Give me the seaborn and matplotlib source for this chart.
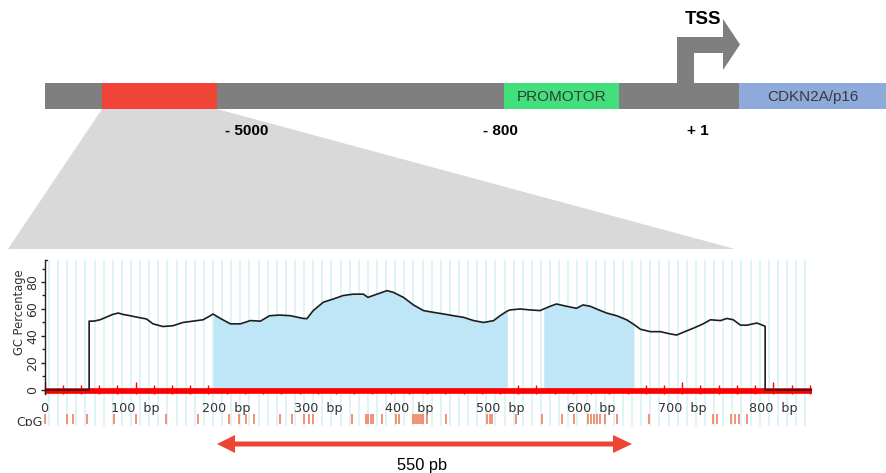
import numpy as np
import pandas as pd
import matplotlib
matplotlib.use("Agg")
import matplotlib.pyplot as plt
from matplotlib.patches import Polygon, Rectangle
from matplotlib.ticker import FixedLocator
import seaborn as sns

# ---------------- GC content profile (position in bp, GC %) ----------------
gc_pos = [0, 49, 49, 54, 61, 68, 75, 81, 86, 94,
          101, 112, 119, 130, 141, 152, 163, 174, 182, 185,
          193, 204, 215, 226, 237, 247, 258, 270, 277, 284,
          288, 295, 306, 317, 328, 339, 350, 355, 365, 376,
          383, 394, 405, 416, 427, 438, 449, 460, 471, 482,
          493, 500, 508, 511, 522, 533, 544, 548, 555, 562,
          573, 584, 591, 599, 606, 617, 628, 639, 647, 654,
          665, 676, 687, 694, 701, 712, 723, 731, 742, 749,
          756, 764, 771, 782, 791, 791, 842]
gc_pct = [0, 0, 51, 51, 52, 54, 56, 57, 56, 55,
          54, 52.6, 49, 47, 47.6, 50, 51, 52, 55, 56.3,
          53, 49, 49, 51.4, 51, 55, 55.5, 55, 54, 53,
          52.8, 58.8, 65, 67.4, 70, 71, 71, 68.6, 71, 73.6,
          72.3, 68.6, 63, 58.8, 57.5, 56.3, 55, 53.8, 51.4, 50,
          51.4, 55, 58.5, 59.3, 60, 59.3, 58.8, 60, 62, 63.7,
          62, 60.5, 63, 62, 60, 57, 55, 52, 48.5, 45,
          43.2, 43.2, 41.5, 40.7, 42.7, 45.7, 49, 52, 51.4, 53,
          52, 48, 48, 49.6, 47.2, 0, 0]

# CpG islands (bp)
island_start = [185, 548]
island_end = [508, 647]

# CpG dinucleotide positions (bp)
cpg_sites = [1, 25, 31, 47, 76, 100, 133, 168, 203, 213, 221, 230, 258, 272,
             285, 290, 295, 337, 353, 355, 358, 361, 370, 386, 389, 404, 407,
             409, 411, 413, 415, 420, 441, 486, 489, 491, 518, 546, 568, 581,
             597, 600, 603, 606, 610, 615, 628, 663, 734, 738, 754, 758, 762, 771]

x_ticks = [0, 100, 200, 300, 400, 500, 600, 700, 800]
x_tick_labels = ["0", "100  bp", "200  bp", "300  bp", "400  bp",
                 "500  bp", "600  bp", "700  bp", "800  bp"]
y_ticks = [0, 20, 40, 60, 80]
y_tick_labels = ["0", "20", "40", "60", "80"]

# ---------------- gene map (drawing units) ----------------
map_bar = (45, 740)
seg_start = [102, 504, 739]
seg_end = [217, 619, 886]
seg_colors = ["#f04438", "#41e07d", "#8eaadb"]
seg_text = ["", "PROMOTOR", "CDKN2A/p16"]
coord_labels = ["- 5000", "- 800", "+ 1"]
coord_x = [246.5, 500.5, 697.5]
span_label = "550 pb"

sns.set_style("white")
plt.rcParams["font.family"] = ["DejaVu Sans"]

W, H = 886, 473
fig = plt.figure(figsize=(W / 100, H / 100), dpi=100)

# canvas for the gene map, in pixel units
cv = fig.add_axes([0, 0, 1, 1], zorder=0)
cv.set_xlim(0, W)
cv.set_ylim(H, 0)
cv.axis("off")

# zoom wedge from the highlighted region down to the profile
cv.add_patch(Polygon([(102, 109), (217, 109), (735, 249), (8, 249)],
                     closed=True, facecolor="#d9d9d9", edgecolor="none", zorder=1))

# backbone and segments
cv.barh(96, map_bar[1] - map_bar[0], left=map_bar[0], height=26,
        color="#7f7f7f", edgecolor="none", linewidth=0, zorder=2)
seg_w = [e - s for s, e in zip(seg_start, seg_end)]
cv.barh([96] * len(seg_start), seg_w, left=seg_start, height=26,
        color=seg_colors, edgecolor="none", linewidth=0, zorder=3)
for s, e, t in zip(seg_start, seg_end, seg_text):
    if t:
        cv.text((s + e) / 2, 96.5, t, ha="center", va="center", fontsize=11,
                color="#3a3a3a", family=["Liberation Sans"], zorder=4)

# transcription start arrow
cv.add_patch(Polygon([(677, 83), (677, 37), (723, 37), (723, 19), (740, 44.5),
                      (723, 70), (723, 53), (694, 53), (694, 83)],
                     closed=True, facecolor="#7f7f7f", edgecolor="none", zorder=2))
cv.text(703, 19, "TSS", ha="center", va="center", fontsize=13.5,
        fontweight="bold", family=["Liberation Sans"], color="black", zorder=5)

for lab, xc in zip(coord_labels, coord_x):
    cv.text(xc, 131, lab, ha="center", va="center", fontsize=11,
            fontweight="bold", family=["Liberation Sans"], color="black")

# double-headed span arrow
cv.add_patch(Polygon([(217, 444), (235, 435), (235, 441.5), (613, 441.5),
                      (613, 435), (632, 444), (613, 453), (613, 446.5),
                      (235, 446.5), (235, 453)],
                     closed=True, facecolor="#ee4433", edgecolor="none"))
cv.text(422, 465, span_label, ha="center", va="center", fontsize=11.8,
        family=["Liberation Sans"], color="black")

# ---------------- GC profile panel ----------------
ax = fig.add_axes([44.5 / W, (H - 394) / H, 767.1 / W, 134 / H], zorder=1)
ax.set_facecolor("none")
ax.set_xlim(0, 842)
ax.set_ylim(-3, 96.3)

# light background stripes every 10 bp
stripe_x = np.arange(5, 840, 10)
ax.vlines(stripe_x, -27.5, 96.3, colors="#d4f1f8", lw=1.1, zorder=0.5,
          clip_on=False)

df = pd.DataFrame({"pos": gc_pos, "gc": gc_pct})
pos = df["pos"].to_numpy()
gc = df["gc"].to_numpy()
for s, e in zip(island_start, island_end):
    m = (pos >= s) & (pos <= e)
    ax.fill_between(pos, 0, gc, where=m, color="#bee6f6", lw=0, zorder=1)

ax.axhline(-0.8, xmin=0, xmax=1, color="#ff0000", lw=4.1, zorder=2,
           solid_capstyle="butt")
sns.lineplot(data=df, x="pos", y="gc", estimator=None, sort=False,
             color="#1e1e1e", lw=1.2, ax=ax, zorder=3)

# CpG site marks
ax.vlines(cpg_sites, -25.5, -17.8, colors="#ef7f60", lw=1.2, clip_on=False,
          zorder=2)
ax.text(-1.6, -19.3, "CpG", ha="right", va="top", fontsize=9,
        color="#333333", clip_on=False)
# trim the bottom of the panel
ax.add_patch(Rectangle((-55, -32.5), 960, 5.8, facecolor="white",
                       edgecolor="none", clip_on=False, zorder=10))

ax.set_xlabel("")
ax.set_ylabel("GC Percentage", fontsize=8.3, color="#333333")
ax.yaxis.set_label_coords(-0.024, 0.61)
for sp in ["top", "right", "bottom"]:
    ax.spines[sp].set_visible(False)
ax.spines["left"].set_color("#222222")
ax.spines["left"].set_linewidth(1.0)
ax.plot([0, 3], [96.2, 96.2], color="#222222", lw=1.0, clip_on=False)

ax.xaxis.set_major_locator(FixedLocator(x_ticks))
ax.set_xticklabels(x_tick_labels)
ax.xaxis.set_minor_locator(FixedLocator([v for v in range(0, 842, 20) if v % 100]))
ax.tick_params(axis="x", which="major", direction="in", length=8.6, width=1.0,
               color="#ff0000", labelsize=9.2, labelcolor="#333333", pad=6,
               bottom=True)
ax.tick_params(axis="x", which="minor", direction="in", length=6.5, width=1.0,
               color="#ff0000", bottom=True)

ax.yaxis.set_major_locator(FixedLocator(y_ticks))
ax.set_yticklabels(y_tick_labels, rotation=90, va="center")
ax.yaxis.set_minor_locator(FixedLocator([10, 30, 50, 70, 90]))
ax.tick_params(axis="y", which="major", direction="out", length=3, width=1.0,
               color="#222222", labelsize=9, labelcolor="#333333", pad=1,
               left=True)
ax.tick_params(axis="y", which="minor", direction="out", length=2, width=1.0,
               color="#222222", left=True)

fig.savefig("out.png", dpi=100)
